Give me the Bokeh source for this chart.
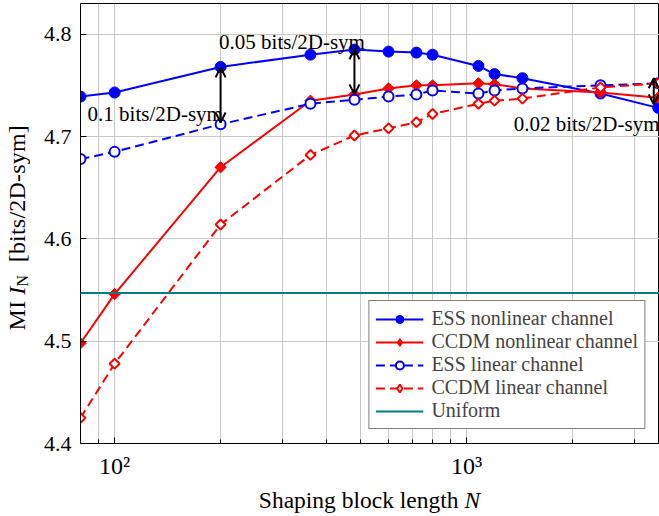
import math
from bokeh.plotting import figure
from bokeh.layouts import row, column
from bokeh.models import (FixedTicker, Legend, LegendItem, Label, Arrow, OpenHead,
                          Span, Div)
from bokeh.embed import file_html
from bokeh.resources import INLINE

# Shaping block lengths
N = [80, 100, 200, 360, 480, 600, 720, 800, 1080, 1200, 1440, 2400, 3500]

# Mutual information per shaping scheme [bits/2D-sym]
ess_nonlinear = [4.739, 4.743, 4.768, 4.780, 4.785, 4.783, 4.782, 4.780, 4.769, 4.761, 4.757, 4.742, 4.728]
ccdm_nonlinear = [4.498, 4.546, 4.670, 4.735, 4.741, 4.747, 4.750, 4.750, 4.752, 4.751, 4.747, 4.743, 4.738]
ess_linear = [4.678, 4.685, 4.712, 4.732, 4.736, 4.739, 4.741, 4.745, 4.742, 4.745, 4.747, 4.750, 4.752]
ccdm_linear = [4.425, 4.478, 4.614, 4.682, 4.701, 4.708, 4.714, 4.722, 4.732, 4.735, 4.737, 4.748, 4.752]
uniform = 4.547

x_major = [100, 1000]
x_minor = [90, 200, 300, 400, 500, 600, 700, 800, 900, 2000, 3000]
x_tick_labels = {100: "10²", 1000: "10³"}
y_ticks = [4.4, 4.5, 4.6, 4.7, 4.8]

SERIF = "Liberation Serif"
BLUE, RED, TEAL = "#0000ff", "#ff0000", "#008080"

p = figure(width=629, height=486, x_axis_type="log",
           x_range=(80, 3530), y_range=(4.4, 4.83),
           output_backend="svg", toolbar_location=None,
           min_border_left=50, min_border_right=0,
           min_border_top=3, min_border_bottom=43)
p.background_fill_color = "white"
p.border_fill_color = "white"
p.outline_line_color = "black"
p.outline_line_width = 1

p.xaxis.ticker = FixedTicker(ticks=x_major, minor_ticks=x_minor)
p.xaxis.major_label_overrides = x_tick_labels
p.yaxis.ticker = FixedTicker(ticks=y_ticks)
for ax in (p.xaxis[0], p.yaxis[0]):
    ax.axis_line_color = "black"
    ax.major_tick_line_color = "black"
    ax.major_tick_in = 6
    ax.major_tick_out = 0
    ax.minor_tick_in = 4
    ax.minor_tick_out = 0
    ax.minor_tick_line_color = "black"
    ax.major_label_text_font = SERIF
    ax.major_label_text_font_size = "22px"
    ax.major_label_text_color = "black"
p.yaxis.minor_tick_line_color = None
p.xaxis.major_label_text_font_size = "24px"
p.xaxis.major_label_standoff = 9
p.yaxis.major_label_standoff = 9

p.xgrid.grid_line_color = "#c8c8c8"
p.xgrid.minor_grid_line_color = "#c8c8c8"
p.ygrid.grid_line_color = "#c8c8c8"

p.add_layout(Span(location=uniform, dimension="width",
                  line_color=TEAL, line_width=2))

DASH = "9 5"
DIAMOND = math.pi / 4  # squares turned on a corner
l1 = p.line(N, ess_nonlinear, line_color=BLUE, line_width=2)
m1 = p.scatter(N, ess_nonlinear, marker="circle", size=11,
               fill_color=BLUE, line_color=BLUE)
l2 = p.line(N, ccdm_nonlinear, line_color=RED, line_width=2)
p.scatter(N, ccdm_nonlinear, marker="square", size=8, angle=DIAMOND,
          fill_color=RED, line_color=RED, line_width=1)
l3 = p.line(N, ess_linear, line_color=BLUE, line_width=2, line_dash=DASH)
m3 = p.scatter(N, ess_linear, marker="circle", size=10,
               fill_color="white", line_color=BLUE, line_width=2)
l4 = p.line(N, ccdm_linear, line_color=RED, line_width=2, line_dash=DASH)
p.scatter(N, ccdm_linear, marker="square", size=7, angle=DIAMOND,
          fill_color="white", line_color=RED, line_width=2)

# Legend-only glyphs (placed outside the visible ranges)
m2 = p.scatter([1], [0], marker="diamond", size=15, fill_color=RED, line_color=RED)
m4 = p.scatter([1], [0], marker="diamond", size=14, fill_color="white",
               line_color=RED, line_width=2)
l5 = p.line([1, 2], [0, 0], line_color=TEAL, line_width=2)

legend = Legend(items=[
    LegendItem(label="ESS nonlinear channel", renderers=[l1, m1]),
    LegendItem(label="CCDM nonlinear channel", renderers=[l2, m2]),
    LegendItem(label="ESS linear channel", renderers=[l3, m3]),
    LegendItem(label="CCDM linear channel", renderers=[l4, m4]),
    LegendItem(label="Uniform", renderers=[l5]),
], location="bottom_right")
legend.margin = 14
legend.padding = 6
legend.spacing = 0
legend.glyph_width = 48
legend.glyph_height = 20
legend.label_height = 20
legend.label_standoff = 8
legend.label_text_font = SERIF
legend.label_text_font_size = "20px"
legend.label_text_line_height = 1.0
legend.border_line_color = "black"
legend.border_line_width = 1
legend.background_fill_alpha = 1
p.add_layout(legend)

# Gap arrows between curves
for xa, y0, y1 in [(200, 4.7676, 4.7137), (480, 4.7853, 4.7412), (3400, 4.757, 4.7314)]:
    p.add_layout(Arrow(x_start=xa, y_start=y0, x_end=xa, y_end=y1,
                       line_color="black", line_width=2,
                       start=OpenHead(size=10, line_color="black", line_width=2),
                       end=OpenHead(size=10, line_color="black", line_width=2)))

def note(x, y, text, **kw):
    opts = dict(text_font=SERIF, text_font_size="21px", text_color="black",
                text_baseline="alphabetic", text_align="left")
    opts.update(kw)
    p.add_layout(Label(x=x, y=y, text=text, **opts))

note(198, 4.792, "0.05 bits/2D-sym")
note(83.8, 4.7216, "0.1 bits/2D-sym")
note(1360, 4.7127, "0.02 bits/2D-sym")

# Axis titles as rich text beside the figure
FONT_CSS = "font-family:'Liberation Serif',serif; color:black;"
y_title = Div(
    text=("<div style=\"width:36px; height:455px; display:flex; "
          "align-items:center; justify-content:center;\">"
          "<span style=\"writing-mode:vertical-rl; transform:rotate(180deg); "
          "white-space:nowrap; line-height:1; font-size:24px; letter-spacing:0.2px; "
          + FONT_CSS + "\">"
          "MI <i>I</i><sub style=\"font-size:16px;\">N</sub>&nbsp; [bits/2D-sym]</span></div>"),
    width=30, height=516, margin=(0, 0, 0, 0))
x_title = Div(
    text=("<div style=\"width:579px; margin-left:50px; margin-top:3px; "
          "text-align:center; white-space:nowrap; line-height:1; font-size:23.5px; "
          + FONT_CSS + "\">Shaping block length <i>N</i></div>"),
    width=629, height=30, margin=(0, 0, 0, 0))

page = row(y_title, column(p, x_title, spacing=0), spacing=0)

open("out.html", "w").write(file_html(page, INLINE))
